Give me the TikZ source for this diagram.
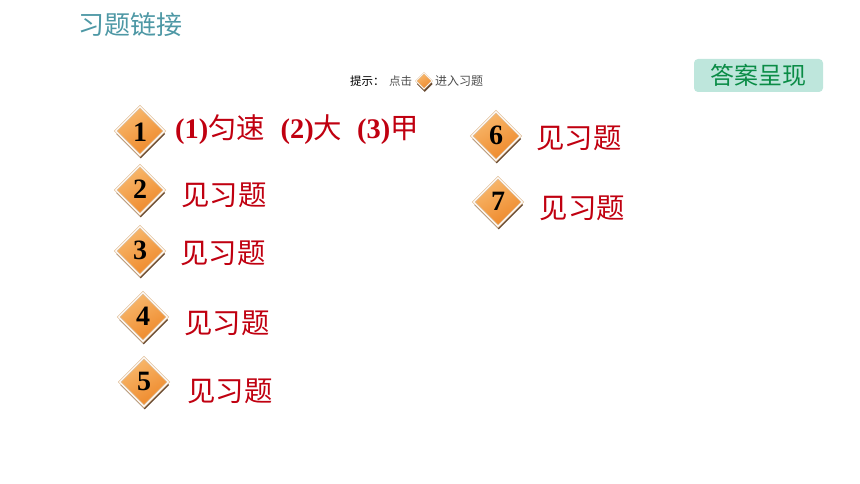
\documentclass[tikz,border=0pt]{standalone}
\usepackage{fontspec}
\setmainfont{Liberation Serif}
\newfontfamily\cjk{Noto Sans CJK SC}
\usetikzlibrary{shapes,shadows}
\definecolor{answerred}{RGB}{192,0,16}
\definecolor{titleteal}{RGB}{78,152,165}
\definecolor{badgegreen}{RGB}{190,230,220}
\definecolor{badgetext}{RGB}{10,140,70}
\definecolor{gemlight}{RGB}{248,185,110}
\definecolor{gemdark}{RGB}{238,135,40}
\definecolor{gemedge}{RGB}{225,190,150}
\definecolor{gemshadow}{RGB}{105,75,50}
\tikzset{
  gem/.style={shape=diamond, minimum width=#1, minimum height=#1, inner sep=0pt,
    draw=gemedge, double=white, double distance=1pt, line width=0.8pt,
    top color=gemlight, bottom color=gemdark, shading angle=30,
    drop shadow={shadow xshift=0.8pt, shadow yshift=-3pt, fill=gemshadow, opacity=1}},
  gem/.default=49pt,
  answer/.style={anchor=west, inner sep=0pt, text=answerred, font=\fontsize{28.4}{30}\selectfont\cjk},
  hint/.style={inner sep=0pt, font=\fontsize{11.5}{13}\selectfont\cjk}
}
\begin{document}
\begin{tikzpicture}[x=1pt,y=-1pt]
  \useasboundingbox (0,0) rectangle (860,484);
  \node[anchor=west, inner sep=0pt, text=titleteal, font=\fontsize{26}{28}\selectfont\cjk] (title) at (78,25) {习题链接};
  \node[hint, anchor=west, font=\fontsize{11.5}{13}\selectfont\cjk] (hinta) at (350,81.5) {提示：};
  \node[hint, anchor=west, text=black!70] (hintb) at (389,81.5) {点击};
  \node[gem=16pt, line width=0.4pt, double distance=0.5pt, drop shadow={shadow xshift=0.3pt, shadow yshift=-1pt, fill=gemshadow}] (hintgem) at (424,81) {};
  \node[hint, anchor=west, text=black!70, font=\fontsize{12}{13}\selectfont\cjk] (hintc) at (435,81.5) {进入习题};
  \node[fill=badgegreen, rounded corners=4pt, minimum width=129pt, minimum height=33pt, inner sep=0pt,
    text=badgetext, font=\fontsize{24}{26}\selectfont\cjk] (badge) at (758.5,75.5) {答案呈现};
  \foreach \n/\x/\y/\tx/\ty in {2/140/190/181/195, 3/140/251/180/253, 4/143/317/184/323,
      5/144/382/187/391, 6/496/136/536/138, 7/498/202/539.5/208} {
    \node[gem] (gem\n) at (\x,\y) {};
    \node[font=\fontsize{28}{30}\selectfont\bfseries, yshift=1pt] (num\n) at (\x,\y) {\n};
    \node[answer] (ans\n) at (\tx,\ty) {见习题};
  }
  \node[gem] (gem1) at (140,131) {};
  \node[font=\fontsize{28}{30}\selectfont\bfseries] (num1) at (140,132) {1};
  \node[answer] (ans1) at (175,129.5) {\rmfamily\bfseries (1)\cjk\mdseries 匀速\hspace{15.5pt}\rmfamily\bfseries (2)\cjk\mdseries 大\hspace{15pt}\rmfamily\bfseries (3)\cjk\mdseries 甲};
\end{tikzpicture}
\end{document}
